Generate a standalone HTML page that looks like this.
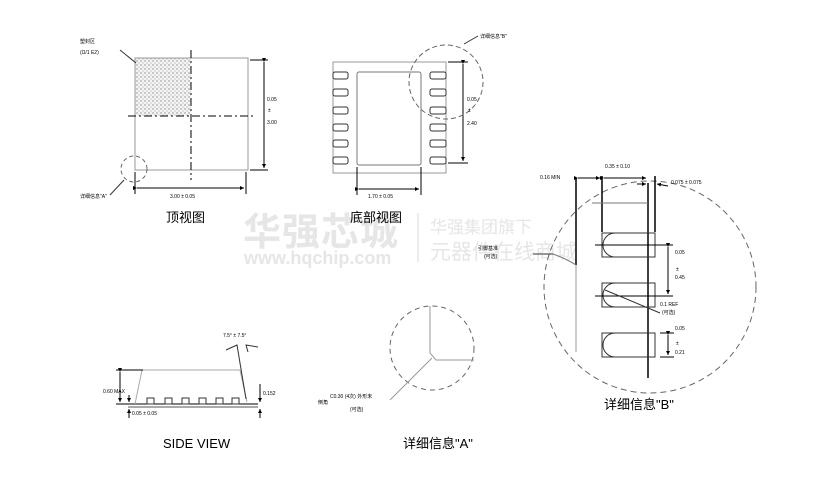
<!DOCTYPE html>
<html><head><meta charset="utf-8"><style>
html,body{margin:0;padding:0;background:#fff;}
svg{display:block;}
text{font-family:"Liberation Sans","Noto Sans CJK SC",sans-serif;}
</style></head><body>
<svg width="813" height="478" viewBox="0 0 813 478" xmlns="http://www.w3.org/2000/svg">
<defs>
<pattern id="dots" width="4" height="4" patternUnits="userSpaceOnUse">
<rect width="4" height="4" fill="#f4f4f4"/>
<circle cx="1" cy="1" r="0.7" fill="#888"/><circle cx="3" cy="3" r="0.6" fill="#aaa"/>
</pattern>
<marker id="ar" markerWidth="4" markerHeight="4" refX="4" refY="2" orient="auto" markerUnits="userSpaceOnUse"><path d="M0,0 L4,2 L0,4 z" fill="#000"/></marker>
</defs>

<!-- watermark -->
<g fill="#e6e6e6">
<text x="243" y="245" font-size="38" font-weight="bold" style="letter-spacing:1px">华强芯城</text>
<text x="244" y="264" font-size="18" font-weight="bold">www.hqchip.com</text>
<text x="430" y="233" font-size="17">华强集团旗下</text>
<text x="430" y="259" font-size="21">元器件在线商城</text>
</g>
<line x1="418" y1="213" x2="418" y2="262" stroke="#e6e6e6" stroke-width="1.5"/>

<g stroke="#000" fill="none" stroke-width="1">
<!-- TOP VIEW -->
<rect x="135" y="58" width="56" height="58" fill="url(#dots)" stroke="none"/>
<rect x="135" y="58" width="113" height="112" stroke="#999"/>
<line x1="191" y1="50" x2="191" y2="180" stroke-dasharray="8,3,2,3"/>
<line x1="128" y1="116" x2="253" y2="116" stroke-dasharray="8,3,2,3"/>
<line x1="250" y1="60" x2="268" y2="60"/><line x1="250" y1="170" x2="268" y2="170"/>
<line x1="264" y1="62" x2="264" y2="168" marker-start="url(#ar)" marker-end="url(#ar)"/>
<line x1="135" y1="172" x2="135" y2="194"/><line x1="246" y1="172" x2="246" y2="194"/>
<line x1="137" y1="188" x2="244" y2="188" marker-start="url(#ar)" marker-end="url(#ar)"/>
<circle cx="134" cy="169" r="13" stroke="#666" stroke-dasharray="4,3"/>
<line x1="110" y1="195" x2="124" y2="180" stroke="#333"/>
<line x1="120" y1="50" x2="136" y2="63" stroke="#333"/>

<!-- BOTTOM VIEW -->
<rect x="333" y="62" width="113" height="111" stroke="#999"/>
<rect x="357" y="72" width="64" height="93" rx="2" stroke="#777"/>
<g stroke="#333">
<rect x="333" y="72" width="15" height="7" rx="2"/><rect x="333" y="89" width="15" height="7" rx="2"/>
<rect x="333" y="107" width="15" height="7" rx="2"/><rect x="333" y="124" width="15" height="7" rx="2"/>
<rect x="333" y="140" width="15" height="7" rx="2"/><rect x="333" y="157" width="15" height="7" rx="2"/>
<rect x="430" y="72" width="16" height="7" rx="2"/><rect x="430" y="89" width="16" height="7" rx="2"/>
<rect x="430" y="107" width="16" height="7" rx="2"/><rect x="430" y="124" width="16" height="7" rx="2"/>
<rect x="430" y="140" width="16" height="7" rx="2"/><rect x="430" y="157" width="16" height="7" rx="2"/>
</g>
<line x1="448" y1="62" x2="468" y2="62"/><line x1="448" y1="163" x2="468" y2="163"/>
<line x1="463" y1="64" x2="463" y2="161" marker-start="url(#ar)" marker-end="url(#ar)"/>
<line x1="357" y1="167" x2="357" y2="195"/><line x1="421" y1="167" x2="421" y2="195"/>
<line x1="359" y1="189" x2="419" y2="189" marker-start="url(#ar)" marker-end="url(#ar)"/>
<circle cx="446" cy="82" r="37" stroke="#666" stroke-dasharray="5,3"/>
<line x1="464" y1="44" x2="478" y2="36" stroke="#333"/>

<!-- DETAIL B -->
<circle cx="650" cy="287" r="106" stroke="#666" stroke-dasharray="6,4"/>
<line x1="576" y1="178" x2="576" y2="265" stroke-width="1.5"/>
<line x1="576" y1="265" x2="576" y2="352" stroke="#999"/>
<line x1="602" y1="176" x2="602" y2="232" stroke-width="1.5"/>
<line x1="655" y1="176" x2="655" y2="232" stroke-width="1.5"/>
<line x1="648" y1="183" x2="648" y2="378" stroke-width="1.5"/>
<line x1="592" y1="203" x2="648" y2="203" stroke="#777"/>
<line x1="578" y1="178" x2="600" y2="178" marker-start="url(#ar)" marker-end="url(#ar)"/>
<line x1="604" y1="178" x2="646" y2="178" marker-start="url(#ar)" marker-end="url(#ar)"/>
<line x1="637" y1="184" x2="646" y2="184" marker-end="url(#ar)"/>
<line x1="668" y1="186" x2="657" y2="184" marker-end="url(#ar)"/>
<g stroke="#333">
<path d="M615,233 H655 V257 H615 A12,12 0 0 1 615,233 Z"/><rect x="602" y="233" width="53" height="24"/>
<path d="M615,283 H655 V307 H615 A12,12 0 0 1 615,283 Z"/><rect x="602" y="283" width="53" height="24"/>
<path d="M615,333 H655 V357 H615 A12,12 0 0 1 615,333 Z"/><rect x="602" y="333" width="53" height="24"/>
</g>
<line x1="595" y1="245" x2="673" y2="245"/><line x1="595" y1="296" x2="673" y2="296"/>
<line x1="668" y1="247" x2="668" y2="294" marker-start="url(#ar)" marker-end="url(#ar)"/>
<line x1="605" y1="290" x2="660" y2="313" stroke="#333"/>
<line x1="660" y1="333" x2="674" y2="333"/><line x1="660" y1="357" x2="674" y2="357"/>
<line x1="668" y1="335" x2="668" y2="355" marker-start="url(#ar)" marker-end="url(#ar)"/>
<line x1="533" y1="254" x2="553" y2="254" stroke="#333"/>
<path d="M553,254 Q565,258 576,265" stroke="#777"/>

<!-- SIDE VIEW -->
<line x1="116" y1="404" x2="258" y2="404"/>
<line x1="128" y1="407" x2="258" y2="407" stroke="#555"/>
<path d="M135,404 L142,370 L240,370 L247,402" stroke="#aaa"/>
<g stroke="#333">
<rect x="147" y="398" width="7" height="6"/><rect x="165" y="398" width="7" height="6"/>
<rect x="182" y="398" width="7" height="6"/><rect x="199" y="398" width="7" height="6"/>
<rect x="216" y="398" width="7" height="6"/><rect x="232" y="398" width="7" height="6"/>
</g>
<line x1="116" y1="370" x2="143" y2="370"/>
<line x1="120" y1="372" x2="120" y2="402" marker-start="url(#ar)" marker-end="url(#ar)"/>
<line x1="129" y1="395" x2="129" y2="402" marker-end="url(#ar)"/>
<line x1="129" y1="418" x2="129" y2="409" marker-end="url(#ar)"/>
<line x1="260" y1="384" x2="260" y2="402" marker-end="url(#ar)"/>
<line x1="260" y1="418" x2="260" y2="409" marker-end="url(#ar)"/>
<path d="M226,350 L237,345 L246,399" stroke="#333"/>
<path d="M248,352 L246,345 L258,347" stroke="#333"/>

<!-- DETAIL A -->
<circle cx="432" cy="348" r="42" stroke="#666" stroke-dasharray="5,4"/>
<path d="M430,306 V353 L436,360 H474" stroke="#999"/>
<line x1="432" y1="358" x2="390" y2="400" stroke="#999"/>
</g>

<g font-size="5" fill="#000">
<text x="80" y="43">塑封区</text><text x="80" y="54">(Ω/1    Ε2)</text>
<text x="267" y="101">0.05</text><text x="268" y="112">±</text><text x="267" y="124">3.00</text>
<text x="170" y="198">3.00   ± 0.05</text>
<text x="80" y="198">详细信息"A"</text>
<text x="480" y="38">详细信息"B"</text>
<text x="467" y="101">0.05</text><text x="468" y="112">±</text><text x="467" y="125">2.40</text>
<text x="368" y="198">1.70   ± 0.05</text>
<text x="605" y="168">0.35   ± 0.10</text>
<text x="540" y="179">0.16 MIN</text>
<text x="671" y="184">0.075   ± 0.075</text>
<text x="675" y="254">0.05</text><text x="676" y="271">±</text><text x="675" y="279">0.45</text>
<text x="660" y="306">0.1 REF</text><text x="662" y="314">(可选)</text>
<text x="675" y="330">0.05</text><text x="676" y="345">±</text><text x="675" y="354">0.21</text>
<text x="478" y="250">引脚基准</text><text x="484" y="258">(可选)</text>
<text x="103" y="393">0.60 MAX</text>
<text x="132" y="415">0.05   ± 0.05</text>
<text x="263" y="395">0.152</text>
<text x="223" y="337">7.5°  ± 7.5°</text>
<text x="330" y="398">C0.30 (4次) 外形未</text><text x="318" y="404">倒角</text><text x="350" y="411">(可选)</text>
</g>

<g font-size="13" fill="#000">
<text x="166" y="222">顶视图</text>
<text x="350" y="222">底部视图</text>
<text x="604" y="409">详细信息"B"</text>
<text x="163" y="448">SIDE VIEW</text>
<text x="403" y="448">详细信息"A"</text>
</g>
</svg>
</body></html>
